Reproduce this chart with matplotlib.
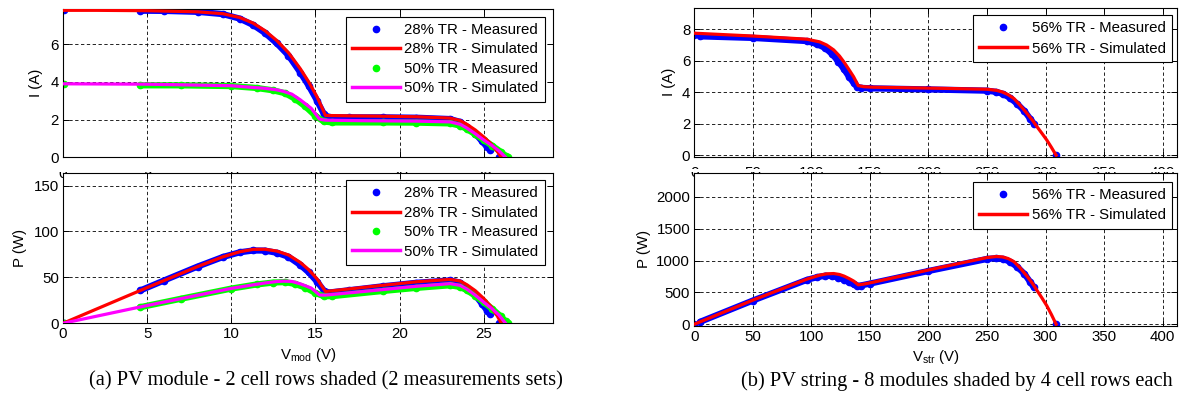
import numpy as np
import matplotlib
matplotlib.use("Agg")
import matplotlib.pyplot as plt
from matplotlib.lines import Line2D
from matplotlib.patches import Rectangle

plt.rcParams['font.family'] = ['Liberation Sans', 'DejaVu Sans']
plt.rcParams['mathtext.fontset'] = 'custom'
plt.rcParams['mathtext.rm'] = 'Liberation Sans'
plt.rcParams['mathtext.it'] = 'Liberation Sans:italic'

nan = np.nan

# ---------------- (a) PV module ----------------
mod_v_sim28 = [0, 2, 5, 8, 9.5, 10.5, 11.3, 12.0, 12.7, 13.4, 14.1, 14.6, 15.1, 15.6,
               17, 19, 21, 23, 23.6, 24.0, 24.5, 25.0, 25.4, 25.8, 26.05]
mod_i_sim28 = [7.80, 7.80, 7.78, 7.72, 7.62, 7.42, 7.12, 6.72, 6.20, 5.55, 4.70, 4.00, 3.20, 2.22,
               2.20, 2.18, 2.15, 2.08, 1.95, 1.75, 1.45, 1.08, 0.75, 0.32, 0.0]
mod_p_sim28 = [0, 15.6, 38.9, 61.8, 72.4, 77.9, 80.5, 80.6, 78.7, 74.4, 66.3, 58.4, 48.3, 34.6,
               37.4, 41.4, 45.2, 47.8, 46.0, 42.0, 35.5, 27.0, 19.1, 8.3, 0.0]

mod_v_meas28 = [0.05, nan, 4.6, 6, 8, 9.5, 10.5, 11.3, 12, 12.7, 13.4, 14.1, 14.6, 15.1, 15.5, 15.8,
                17, 19, 21, 23, 23.6, 24.0, 24.5, 24.9, 25.2, 25.4, nan, 25.9]
mod_i_meas28 = [7.80, nan, 7.78, 7.77, 7.72, 7.60, 7.36, 7.02, 6.60, 6.05, 5.40, 4.50, 3.80, 3.00, 2.30, 2.12,
                2.12, 2.12, 2.10, 2.03, 1.88, 1.62, 1.25, 0.85, 0.55, 0.40, nan, 0.0]
mod_p_meas28 = [0.4, nan, 35.8, 46.6, 61.8, 72.2, 77.3, 79.3, 79.2, 76.8, 72.4, 63.5, 55.5, 45.3, 35.7, 33.5,
                36.0, 40.3, 44.1, 46.7, 44.4, 38.9, 30.6, 21.2, 13.9, 10.2, nan, 0.0]

mod_v_sim50 = [0, 5, 10, 11.1, 12, 12.7, 13.1, 13.6, 14.1, 14.75, 15.25, 15.6, 18, 21, 23,
               23.6, 24, 24.5, 25, 25.5, 25.9, 26.3]
mod_i_sim50 = [3.90, 3.88, 3.80, 3.72, 3.66, 3.58, 3.50, 3.35, 3.05, 2.60, 2.02, 1.97, 1.94, 1.92, 1.88,
               1.75, 1.55, 1.25, 0.92, 0.62, 0.35, 0.0]
mod_p_sim50 = [0, 19.4, 38.0, 41.3, 43.9, 45.5, 45.9, 45.6, 43.0, 38.4, 30.8, 30.7, 34.9, 40.3, 43.2,
               41.3, 37.2, 30.6, 23.0, 15.8, 9.1, 0.0]

mod_v_meas50 = [0.05, nan, 4.6, 7, 10, 11.5, 12.5, 13.2, 13.8, 14.4, 15.0, 15.5, 16, 19, 21, 23,
                23.6, 24, 24.5, 25, 25.5, 26.0, 26.3, nan, 26.45]
mod_i_meas50 = [3.88, nan, 3.82, 3.82, 3.78, 3.68, 3.55, 3.40, 3.10, 2.70, 2.20, 1.90, 1.85, 1.85, 1.84, 1.80,
                1.68, 1.50, 1.22, 0.92, 0.62, 0.30, 0.08, nan, 0.0]
mod_p_meas50 = [0.2, nan, 17.6, 26.7, 37.8, 42.3, 44.4, 44.9, 42.8, 38.9, 33.0, 29.5, 29.6, 35.2, 38.6, 41.4,
                39.6, 36.0, 29.9, 23.0, 15.8, 7.8, 2.1, nan, 0.0]

# ---------------- (b) PV string ----------------
str_v_sim = [0, 50, 96, 107, 113, 119, 124, 128, 132, 136, 140, 145, 153, 210, 250, 258, 263, 268,
             273, 278, 284, 289, 293, 297, 301, 305, 309]
str_i_sim = [7.75, 7.57, 7.37, 7.20, 7.00, 6.69, 6.30, 5.90, 5.45, 4.99, 4.42, 4.35, 4.32, 4.25, 4.19,
             4.12, 4.02, 3.85, 3.60, 3.20, 2.67, 2.20, 1.78, 1.38, 0.97, 0.50, 0.0]
str_p_sim = [0, 378, 707, 770, 791, 796, 781, 755, 719, 679, 619, 631, 661, 892, 1047, 1063, 1057,
             1032, 983, 890, 758, 636, 522, 410, 292, 152, 0]

str_v_meas = [0, nan, 5, 50, 96, 105, 112, 118, 123, 128, 132, 136, 139, 142, 150, 200, 250, 258,
              264, 270, 276, 282, 287, 290, nan, 309]
str_i_meas = [7.65, nan, 7.55, 7.45, 7.25, 7.05, 6.80, 6.40, 5.95, 5.45, 5.00, 4.60, 4.35, 4.28, 4.25,
              4.18, 4.10, 4.02, 3.88, 3.62, 3.25, 2.80, 2.30, 2.00, nan, 0.0]
str_p_meas = [0, nan, 38, 372, 696, 740, 762, 755, 732, 698, 660, 626, 605, 608, 638, 836, 1025, 1037,
              1024, 977, 897, 790, 660, 580, nan, 0]

lab_28m, lab_28s = '28% TR - Measured', '28% TR - Simulated'
lab_50m, lab_50s = '50% TR - Measured', '50% TR - Simulated'
lab_56m, lab_56s = '56% TR - Measured', '56% TR - Simulated'
caption_a = '(a) PV module - 2 cell rows shaded (2 measurements sets)'
caption_b = '(b) PV string - 8 modules shaded by 4 cell rows each'

FS = 10.8
W, H = 1181, 400
fig = plt.figure(figsize=(W / 100, H / 100), dpi=100)


def ax_px(x0, y0, x1, y1):
    return fig.add_axes([x0 / W, 1 - y1 / H, (x1 - x0) / W, (y1 - y0) / H])


def style(ax, xpad=3):
    ax.grid(True, color='black', linestyle=(0, (4, 3)), linewidth=0.6)
    ax.set_axisbelow(True)
    ax.tick_params(direction='in', top=True, right=True, length=4, width=0.7,
                   labelsize=FS, pad=3)
    ax.tick_params(axis='x', pad=xpad)
    for s in ax.spines.values():
        s.set_linewidth(0.8)


def meas(ax, v, y, c):
    ax.plot(v, y, color=c, lw=4.5, solid_capstyle='round', solid_joinstyle='round', zorder=2)
    ax.plot(v, y, '.', color=c, ms=9, zorder=2)


def sim(ax, v, y, c):
    ax.plot(v, y, color=c, lw=2.3, zorder=3)


def legend(ax, items, ax_x, ax_y, spacing):
    handles = []
    for lab, c, kind in items:
        if kind == 'm':
            handles.append(Line2D([], [], color=c, marker='.', ms=9, ls='none', label=lab))
        else:
            handles.append(Line2D([], [], color=c, lw=2.5, label=lab))
    leg = ax.legend(handles=handles, loc='upper right', bbox_to_anchor=(ax_x, ax_y),
                    borderaxespad=0, fontsize=FS, handlelength=3.2, handletextpad=0.3,
                    labelspacing=spacing, borderpad=0.42, fancybox=False, framealpha=1,
                    edgecolor='black')
    leg.get_frame().set_linewidth(0.8)
    leg.set_zorder(10)


items4 = [(lab_28m, 'blue', 'm'), (lab_28s, 'red', 's'),
          (lab_50m, '#00ff00', 'm'), (lab_50s, 'magenta', 's')]
items2 = [(lab_56m, 'blue', 'm'), (lab_56s, 'red', 's')]

# (a) top: I-V
a1 = ax_px(63, 9, 552.7, 157.3)
style(a1, xpad=7)
meas(a1, mod_v_meas28, mod_i_meas28, 'blue')
sim(a1, mod_v_sim28, mod_i_sim28, 'red')
meas(a1, mod_v_meas50, mod_i_meas50, '#00ff00')
sim(a1, mod_v_sim50, mod_i_sim50, 'magenta')
a1.set_xlim(0, 29.1)
a1.set_ylim(0, 7.87)
a1.set_yticks([0, 2, 4, 6])
a1.set_xticks([0, 5, 10, 15, 20, 25])
a1.set_ylabel('I (A)', fontsize=FS, labelpad=5)
legend(a1, items4, 0.984, 0.948, 0.36)

# (a) bottom: P-V
a2 = ax_px(63, 172.7, 552.7, 323.3)
style(a2)
meas(a2, mod_v_meas28, mod_p_meas28, 'blue')
sim(a2, mod_v_sim28, mod_p_sim28, 'red')
meas(a2, mod_v_meas50, mod_p_meas50, '#00ff00')
sim(a2, mod_v_sim50, mod_p_sim50, 'magenta')
a2.set_xlim(0, 29.1)
a2.set_ylim(0, 164)
a2.set_yticks([0, 50, 100, 150])
a2.set_xticks([0, 5, 10, 15, 20, 25])
a2.set_ylabel('P (W)', fontsize=FS, labelpad=5)
a2.set_xlabel('V$_{\\mathrm{mod}}$ (V)', fontsize=FS, labelpad=3)
legend(a2, items4, 0.984, 0.951, 0.36)

# (b) top: I-V
b1 = ax_px(694.3, 8, 1176.7, 156.5)
style(b1, xpad=7)
meas(b1, str_v_meas, str_i_meas, 'blue')
sim(b1, str_v_sim, str_i_sim, 'red')
b1.set_xlim(0, 412)
b1.set_ylim(-0.08, 9.35)
b1.set_yticks([0, 2, 4, 6, 8])
b1.set_xticks(range(0, 401, 50))
b1.set_ylabel('I (A)', fontsize=FS)
legend(b1, items2, 0.990, 0.952, 0.42)

# (b) bottom: P-V
b2 = ax_px(694.3, 173.3, 1176.7, 325.5)
style(b2)
meas(b2, str_v_meas, str_p_meas, 'blue')
sim(b2, str_v_sim, str_p_sim, 'red')
b2.set_xlim(0, 412)
b2.set_ylim(-20, 2370)
b2.set_yticks([0, 500, 1000, 1500, 2000])
b2.set_xticks(range(0, 401, 50))
b2.set_ylabel('P (W)', fontsize=FS)
b2.set_xlabel('V$_{\\mathrm{str}}$ (V)', fontsize=FS, labelpad=3)
legend(b2, items2, 0.990, 0.944, 0.42)

# partially hidden tick labels of the upper plots
fig.add_artist(Rectangle((40 / W, 1 - 172 / H), 540 / W, 7 / H, transform=fig.transFigure,
                         facecolor='white', edgecolor='none', zorder=5))
fig.add_artist(Rectangle((660 / W, 1 - 172.4 / H), 521 / W, 3.4 / H, transform=fig.transFigure,
                         facecolor='white', edgecolor='none', zorder=5))

# captions
fig.text(326 / W, 1 - 381 / H, caption_a, ha='center', va='center', fontsize=14.7,
         family=['Liberation Serif', 'DejaVu Serif'])
fig.text(957 / W, 1 - 381 / H, caption_b, ha='center', va='center', fontsize=14.7,
         family=['Liberation Serif', 'DejaVu Serif'])

fig.savefig('out.png', dpi=100)
